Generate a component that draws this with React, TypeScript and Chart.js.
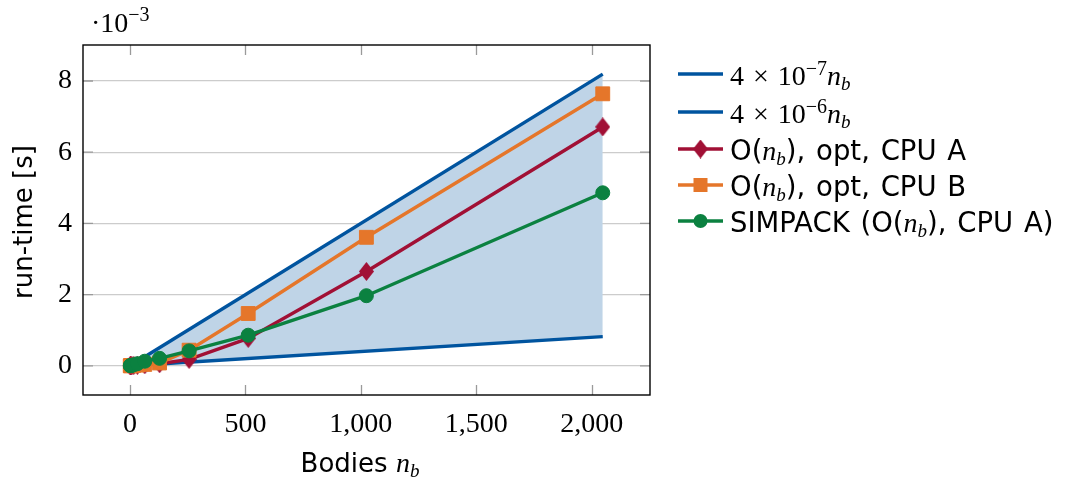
import React, { useEffect, useRef } from "react";
import { Chart, registerables } from "chart.js";

Chart.register(...registerables);

// ---- data (run-time in units of 10^-3 s) ----
const bodies = [1, 2, 4, 8, 16, 32, 64, 128, 256, 512, 1024, 2048];
const cpuA = [0.001, 0.002, 0.003, 0.005, 0.008, 0.015, 0.03, 0.06, 0.18, 0.77, 2.65, 6.71];
const cpuB = [0.002, 0.003, 0.005, 0.008, 0.012, 0.02, 0.04, 0.08, 0.44, 1.47, 3.61, 7.64];
const simpack = [0.004, 0.006, 0.01, 0.015, 0.03, 0.06, 0.13, 0.21, 0.42, 0.86, 1.97, 4.86];
const boundBodies = [1, 2048];
const lowerBound = [0.0004, 0.8192]; // 4e-7 * n_b
const upperBound = [0.004, 8.192]; // 4e-6 * n_b
const xTicks = [0, 500, 1000, 1500, 2000];
const yTicks = [0, 2, 4, 6, 8];
const xRange = [-203.7, 2252.7];
const yRange = [-0.8192, 9.0112];

const BLUE = "#00549f";
const FILL = "rgb(191,212,231)";
const RED = "#a11035";
const ORANGE = "#e5762a";
const GREEN = "#0b8140";

const SERIF = "'Liberation Serif', 'DejaVu Serif', serif";
const SANS = "'DejaVu Sans', 'Noto Sans', sans-serif";

type Run = { t: string; f: string; dy?: number };

const f = (size: number, fam: string, style = "") => `${style} ${size}px ${fam}`.trim();
const MAIN = 28;
const SMALL = 19;
const SANS_SIZE = 26;
const LEG_SANS = 27.5;
const LW = 3.4;

const nb = (): Run[] => [
  { t: "n", f: f(MAIN, SERIF, "italic") },
  { t: "b", f: f(SMALL, SERIF, "italic"), dy: 5 },
];

const legendItems: { color: string; marker: string; runs: Run[]; base: number }[] = [
  {
    color: BLUE,
    marker: "none",
    base: 85,
    runs: [
      { t: "4 × 10", f: f(MAIN, SERIF) },
      { t: "−7", f: f(SMALL + 1, SERIF), dy: -10 },
      ...nb(),
    ],
  },
  {
    color: BLUE,
    marker: "none",
    base: 123,
    runs: [
      { t: "4 × 10", f: f(MAIN, SERIF) },
      { t: "−6", f: f(SMALL + 1, SERIF), dy: -10 },
      ...nb(),
    ],
  },
  {
    color: RED,
    marker: "diamond",
    base: 160,
    runs: [{ t: "O(", f: f(LEG_SANS, SANS) }, ...nb(), { t: "), opt, CPU A", f: f(LEG_SANS, SANS) }],
  },
  {
    color: ORANGE,
    marker: "square",
    base: 196,
    runs: [{ t: "O(", f: f(LEG_SANS, SANS) }, ...nb(), { t: "), opt, CPU B", f: f(LEG_SANS, SANS) }],
  },
  {
    color: GREEN,
    marker: "circle",
    base: 232,
    runs: [
      { t: "SIMPACK (O(", f: f(LEG_SANS, SANS) },
      ...nb(),
      { t: "), CPU A)", f: f(LEG_SANS, SANS) },
    ],
  },
];

function runsWidth(ctx: CanvasRenderingContext2D, runs: Run[]) {
  let w = 0;
  for (const r of runs) {
    ctx.font = r.f;
    w += ctx.measureText(r.t).width;
  }
  return w;
}

function drawRuns(ctx: CanvasRenderingContext2D, runs: Run[], x: number, y: number) {
  let cx = x;
  ctx.textAlign = "left";
  ctx.textBaseline = "alphabetic";
  for (const r of runs) {
    ctx.font = r.f;
    ctx.fillText(r.t, cx, y + (r.dy || 0));
    cx += ctx.measureText(r.t).width;
  }
}

function makeDiamond(color: string, w: number, h: number) {
  const c = document.createElement("canvas");
  c.width = w;
  c.height = h;
  const g = c.getContext("2d")!;
  g.fillStyle = color;
  g.beginPath();
  g.moveTo(w / 2, 0);
  g.lineTo(w, h / 2);
  g.lineTo(w / 2, h);
  g.lineTo(0, h / 2);
  g.closePath();
  g.fill();
  return c;
}

export default function App() {
  const ref = useRef<HTMLCanvasElement>(null);

  useEffect(() => {
    const canvas = ref.current!;
    const diamond = makeDiamond(RED, 15, 19);

    const decor = {
      id: "decor",
      afterDraw(chart: any) {
        const ctx: CanvasRenderingContext2D = chart.ctx;
        const a = chart.chartArea;
        const xs = chart.scales.x;
        const ys = chart.scales.y;
        ctx.save();
        // tick marks
        ctx.strokeStyle = "#9a9a9a";
        ctx.lineWidth = 1.3;
        const tl = 10;
        for (const v of xTicks) {
          const px = Math.round(xs.getPixelForValue(v)) + 0.5;
          ctx.beginPath();
          ctx.moveTo(px, a.bottom);
          ctx.lineTo(px, a.bottom - tl);
          ctx.moveTo(px, a.top);
          ctx.lineTo(px, a.top + tl);
          ctx.stroke();
        }
        for (const v of yTicks) {
          const py = ys.getPixelForValue(v);
          ctx.beginPath();
          ctx.moveTo(a.left, py);
          ctx.lineTo(a.left + tl, py);
          ctx.moveTo(a.right, py);
          ctx.lineTo(a.right - tl, py);
          ctx.stroke();
        }
        // frame
        ctx.strokeStyle = "#000";
        ctx.lineWidth = 1.4;
        ctx.strokeRect(a.left, a.top, a.right - a.left, a.bottom - a.top);

        ctx.fillStyle = "#000";
        // exponent label
        drawRuns(ctx, [
          { t: "·10", f: f(MAIN, SERIF) },
          { t: "−3", f: f(SMALL + 1, SERIF), dy: -11 },
        ], 91, 32);

        // x title
        const xt: Run[] = [{ t: "Bodies ", f: f(SANS_SIZE, SANS) }, ...nb()];
        const w = runsWidth(ctx, xt);
        drawRuns(ctx, xt, 360 - w / 2, 472);

        // y title
        ctx.save();
        ctx.translate(32, (a.top + a.bottom) / 2 + 2);
        ctx.rotate(-Math.PI / 2);
        ctx.font = f(SANS_SIZE, SANS);
        ctx.textAlign = "center";
        ctx.textBaseline = "alphabetic";
        ctx.fillText("run-time [s]", 0, 0);
        ctx.restore();

        // legend
        (ctx as any).wordSpacing = "2px";
        for (const it of legendItems) {
          const ly = it.base - 11;
          ctx.strokeStyle = it.color;
          ctx.lineWidth = LW;
          ctx.beginPath();
          ctx.moveTo(678, ly);
          ctx.lineTo(723, ly);
          ctx.stroke();
          ctx.fillStyle = it.color;
          const mx = 700.5;
          if (it.marker === "diamond") {
            ctx.drawImage(diamond, mx - 7.5, ly - 9.5);
          } else if (it.marker === "square") {
            ctx.fillRect(mx - 7, ly - 7, 14, 14);
          } else if (it.marker === "circle") {
            ctx.beginPath();
            ctx.arc(mx, ly, 7, 0, Math.PI * 2);
            ctx.fill();
          }
          ctx.fillStyle = "#000";
          drawRuns(ctx, it.runs, 730, it.base);
        }
        (ctx as any).wordSpacing = "0px";
        ctx.restore();
      },
    };

    const pts = (xv: number[], yv: number[]) => xv.map((x, i) => ({ x, y: yv[i] }));

    const chart = new Chart(canvas, {
      type: "line",
      data: {
        datasets: [
          {
            label: "4e-7 n_b",
            data: pts(boundBodies, lowerBound),
            borderColor: BLUE,
            borderWidth: LW,
            pointRadius: 0,
            fill: false,
            order: 4,
          },
          {
            label: "4e-6 n_b",
            data: pts(boundBodies, upperBound),
            borderColor: BLUE,
            backgroundColor: FILL,
            borderWidth: LW,
            pointRadius: 0,
            fill: { target: 0 },
            order: 3,
          },
          {
            label: "O(n_b), opt, CPU A",
            data: pts(bodies, cpuA),
            borderColor: RED,
            backgroundColor: RED,
            borderWidth: LW,
            pointStyle: diamond as any,
            pointRadius: 8,
            fill: false,
            order: 2,
          },
          {
            label: "O(n_b), opt, CPU B",
            data: pts(bodies, cpuB),
            borderColor: ORANGE,
            backgroundColor: ORANGE,
            borderWidth: LW,
            pointStyle: "rect",
            pointRadius: 9.8,
            pointBorderWidth: 1,
            fill: false,
            order: 1,
          },
          {
            label: "SIMPACK (O(n_b), CPU A)",
            data: pts(bodies, simpack),
            borderColor: GREEN,
            backgroundColor: GREEN,
            borderWidth: LW,
            pointStyle: "circle",
            pointRadius: 7,
            pointBorderWidth: 1,
            fill: false,
            order: 0,
          },
        ],
      },
      options: {
        animation: false,
        responsive: true,
        maintainAspectRatio: false,
        layout: { padding: { left: 0, top: 45, right: 424, bottom: 0 } },
        plugins: {
          legend: { display: false },
          tooltip: { enabled: false },
          filler: { drawTime: "beforeDatasetsDraw" },
        },
        scales: {
          x: {
            type: "linear",
            min: xRange[0],
            max: xRange[1],
            afterBuildTicks: (s: any) => {
              s.ticks = xTicks.map((v) => ({ value: v }));
            },
            afterFit: (s: any) => {
              s.height = 90;
            },
            grid: { display: false, drawTicks: false },
            border: { display: false },
            ticks: {
              color: "#000",
              font: { family: SERIF, size: MAIN },
              padding: 13,
              maxRotation: 0,
              autoSkip: false,
              callback: (v: any) => Number(v).toLocaleString("en-US"),
            },
          },
          y: {
            type: "linear",
            min: yRange[0],
            max: yRange[1],
            afterBuildTicks: (s: any) => {
              s.ticks = yTicks.map((v) => ({ value: v }));
            },
            afterFit: (s: any) => {
              s.width = 83;
            },
            grid: { color: "#cccccc", lineWidth: 1.3, drawTicks: false },
            border: { display: false },
            ticks: {
              color: "#000",
              font: { family: SERIF, size: MAIN },
              padding: 11,
              autoSkip: false,
              callback: (v: any) => String(v),
            },
          },
        },
      },
      plugins: [decor],
    } as any);

    return () => chart.destroy();
  }, []);

  return (
    <div style={{ position: "absolute", left: 0, top: 0, width: 1074, height: 485, background: "#fff" }}>
      <canvas ref={ref} />
    </div>
  );
}
